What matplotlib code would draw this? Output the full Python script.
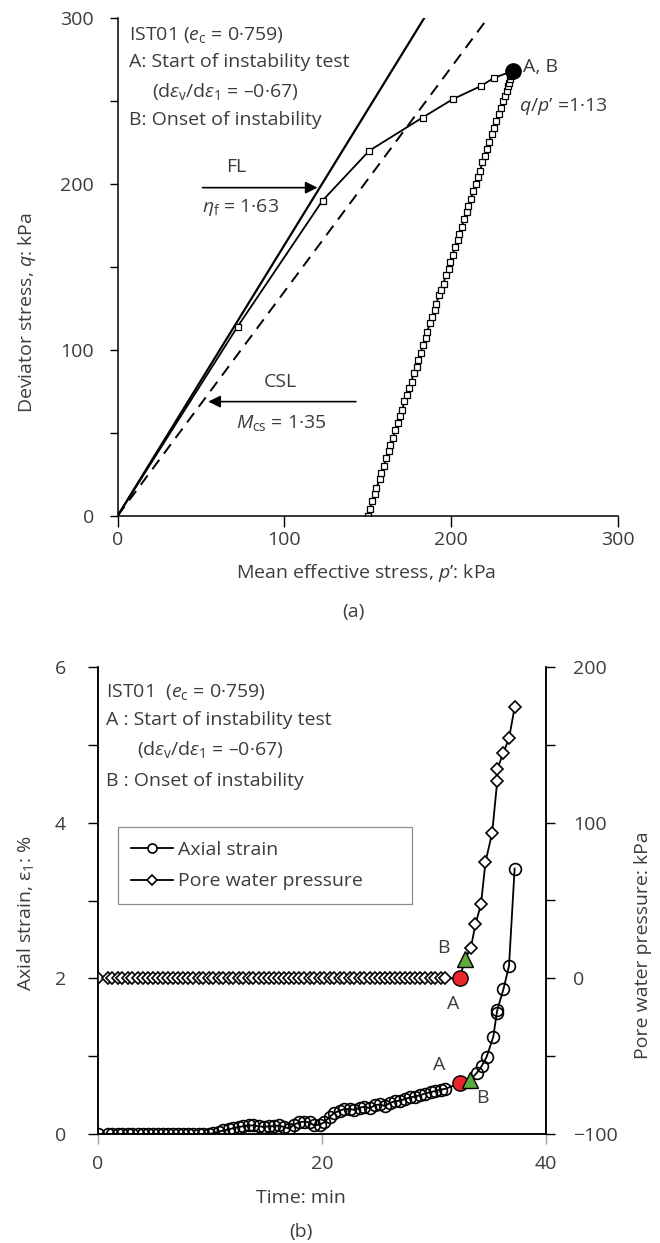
import matplotlib
matplotlib.use('Agg')
import matplotlib.pyplot as plt
from matplotlib.lines import Line2D
from matplotlib.ticker import MultipleLocator

plt.rcParams['font.family'] = ['Open Sans', 'DejaVu Sans']
plt.rcParams['mathtext.fontset'] = 'custom'
plt.rcParams['mathtext.rm'] = 'Open Sans'
plt.rcParams['mathtext.it'] = 'Open Sans:italic'
plt.rcParams['font.size'] = 14
TXT = '#3c3c3c'
FS = 14

# ---- (a) stress paths ----
# drained loading up to the start of the instability test
p_load = [0, 72, 123, 151, 183, 201, 218, 226, 237]
q_load = [0, 114, 190, 220, 240, 251, 259, 264, 268]
# instability test path
p_ist = [150.0, 151.3, 152.9, 154.4, 155.3, 157.3, 158.2, 159.9, 161.1, 162.8,
         163.7, 165.4, 166.6, 168.3, 169.2, 170.9, 172.1, 173.9, 174.6, 176.4,
         177.6, 179.5, 180.2, 181.9, 183.2, 184.9, 185.7, 187.6, 188.6, 190.4,
         191.2, 193.1, 194.0, 195.6, 197.0, 198.6, 199.4, 201.1, 202.4, 204.0,
         205.1, 206.6, 207.8, 209.5, 210.4, 212.1, 213.4, 215.0, 216.0, 217.6,
         218.9, 220.5, 221.4, 223.0, 224.5, 225.9, 227.0, 228.6, 229.8, 231.3,
         232.2, 233.5, 234.3, 235.1, 235.6, 236.2, 236.8]
q_ist = [0, 4, 9, 13, 17, 22, 26, 30, 35, 39,
         43, 47, 52, 56, 60, 64, 69, 73, 77, 81,
         86, 90, 94, 98, 103, 107, 111, 116, 120, 124,
         128, 133, 136, 140, 145, 149, 153, 157, 162, 166,
         170, 174, 179, 183, 187, 191, 196, 200, 204, 208,
         213, 217, 221, 225, 230, 234, 238, 242, 246, 250,
         253, 256, 259, 261, 263, 265, 267]
eta_f = 1.63
m_cs = 1.35
p_line = [0, 300]

# ---- (b) time histories ----
t_hold = [0.0, 0.9, 1.3, 1.8, 2.2, 2.7, 3.1, 3.6, 4.0, 4.5, 4.9, 5.4, 5.8, 6.3,
          6.7, 7.2, 7.6, 8.1, 8.5, 9.0, 9.4, 9.9, 10.3, 10.8, 11.2, 11.7, 12.1,
          12.6, 13.0, 13.5, 13.9, 14.4, 14.8, 15.3, 15.7, 16.2, 16.6, 17.1, 17.5,
          18.0, 18.4, 18.9, 19.3, 19.8, 20.2, 20.7, 21.1, 21.6, 22.0, 22.5, 22.9,
          23.4, 23.8, 24.3, 24.7, 25.2, 25.6, 26.1, 26.5, 27.0, 27.4, 27.9, 28.3,
          28.8, 29.2, 29.7, 30.1, 30.6, 31.0]
strain_hold = [0, 0, 0, 0, 0, 0, 0, 0, 0, 0, 0, 0, 0, 0, 0, 0, 0, 0, 0, 0, 0, 0,
               0.01, 0.03, 0.045, 0.06, 0.075, 0.09, 0.10, 0.11, 0.11, 0.10, 0.09,
               0.10, 0.10, 0.11, 0.09, 0.07, 0.12, 0.15, 0.16, 0.15, 0.11, 0.12,
               0.15, 0.22, 0.27, 0.30, 0.32, 0.32, 0.31, 0.34, 0.35, 0.33, 0.37,
               0.38, 0.36, 0.40, 0.42, 0.43, 0.45, 0.47, 0.48, 0.50, 0.52, 0.54,
               0.55, 0.57, 0.58]
pwp_hold = [0, 0, 0, 0, 0, 0, 0, 0, 0, 0, 0, 0, 0, 0, 0, 0, 0, 0, 0, 0, 0, 0,
            0, 0, 0, 0, 0, 0, 0, 0, 0, 0, 0, 0, 0, 0, 0, 0, 0, 0, 0, 0, 0, 0,
            0, 0, 0, 0, 0, 0, 0, 0, 0, 0, 0, 0, 0, 0, 0, 0, 0, 0, 0, 0, 0, 0,
            0, 0, 0]
t_strain_tail = [33.8, 34.25, 34.7, 35.3, 35.6, 35.65, 36.2, 36.7, 37.2]
strain_tail = [0.78, 0.87, 0.99, 1.25, 1.55, 1.59, 1.86, 2.16, 3.41]
t_pwp_tail = [33.3, 33.7, 34.2, 34.6, 35.2, 35.65, 35.65, 36.2, 36.7, 37.2]
pwp_tail = [19.7, 34.7, 47.5, 74.7, 93.6, 126.8, 134.2, 145, 154.2, 174]
# A: start of instability test, B: onset of instability
t_a, strain_a, pwp_a = 32.3, 0.65, 0
t_b_strain, strain_b = 33.2, 0.69
t_b_pwp, pwp_b = 32.8, 12.7

fig = plt.figure(figsize=(6.6, 12.43), dpi=100)

# ======== (a) ========
ax1 = fig.add_axes([117.5 / 660, 1 - 516 / 1243, 500 / 660, 498 / 1243])
ax1.plot(p_line, [eta_f * p for p in p_line], '-', color='k', lw=1.6)
ax1.plot(p_line, [m_cs * p for p in p_line], '--', color='k', lw=1.4,
         dashes=(6, 4))
ax1.plot(p_load, q_load, '-', color='k', lw=1.3, marker='s', ms=4.5,
         mfc='white', mec='k', mew=0.9, markevery=list(range(1, len(p_load) - 1)))
ax1.plot(p_ist, q_ist, '-', color='k', lw=1.3, marker='s', ms=4.5,
         mfc='white', mec='k', mew=0.9)
ax1.plot(p_load[-1], q_load[-1], 'o', color='k', ms=11, zorder=5)

ax1.set_xlim(0, 300)
ax1.set_ylim(0, 300)
for s in ['top', 'right']:
    ax1.spines[s].set_visible(False)
for s in ['left', 'bottom']:
    ax1.spines[s].set_linewidth(1.1)
ax1.xaxis.set_major_locator(MultipleLocator(100))
ax1.yaxis.set_major_locator(MultipleLocator(100))
ax1.yaxis.set_minor_locator(MultipleLocator(50))
ax1.tick_params(axis='y', which='both', direction='out', length=6, width=1,
                pad=11, labelcolor=TXT, labelsize=FS)
ax1.tick_params(axis='x', which='both', direction='out', length=8, width=1,
                pad=3, labelcolor=TXT, labelsize=FS)

ax1.text(7, 290, 'IST01 ($e_\\mathrm{c}$ = 0·759)', color=TXT, va='center')
ax1.text(7, 273.5, 'A: Start of instability test', color=TXT, va='center')
ax1.text(21, 255.5, '(d$\\varepsilon_\\mathrm{v}$/d$\\varepsilon_\\mathrm{1}$ = –0·67)',
         color=TXT, va='center')
ax1.text(7, 238.5, 'B: Onset of instability', color=TXT, va='center')
ax1.text(243.5, 270.5, 'A, B', color=TXT, va='center')
ax1.text(241, 246.5, '$q$/$p$’ =1·13', color=TXT, va='center')

ax1.annotate('', xy=(120, 197.8), xytext=(51, 197.8),
             arrowprops=dict(arrowstyle='-|>', color='k', lw=1.2,
                             mutation_scale=18, shrinkA=0, shrinkB=0))
ax1.text(71.5, 210.5, 'FL', color=TXT, ha='center', va='center')
ax1.text(51, 186, '$\\eta_\\mathrm{f}$ = 1·63', color=TXT, va='center')
ax1.annotate('', xy=(54.5, 68.9), xytext=(143, 68.9),
             arrowprops=dict(arrowstyle='-|>', color='k', lw=1.2,
                             mutation_scale=18, shrinkA=0, shrinkB=0))
ax1.text(97.8, 81, 'CSL', color=TXT, ha='center', va='center')
ax1.text(71.4, 56, '$M_\\mathrm{cs}$ = 1·35', color=TXT, va='center')

ax1.text(0.497, -0.1145, 'Mean effective stress, $p$’: kPa', color=TXT,
         ha='center', va='center', transform=ax1.transAxes)
ax1.text(0.471, -0.193, '(a)', color=TXT, ha='center', va='center',
         transform=ax1.transAxes)
ax1.text(-0.181, 0.408, 'Deviator stress, $q$: kPa', color=TXT, rotation=90,
         ha='center', va='center', transform=ax1.transAxes)

# ======== (b) ========
ax2 = fig.add_axes([97.7 / 660, 1 - 1134 / 1243, 448.3 / 660, 467 / 1243])
ax2r = ax2.twinx()

t_strain = t_hold + [t_a, t_b_strain] + t_strain_tail
strain_all = strain_hold + [strain_a, strain_b] + strain_tail
n_hold = len(t_hold)
mark_s = list(range(n_hold)) + list(range(n_hold + 2, len(t_strain)))
ax2.plot(t_strain, strain_all, '-', color='k', lw=1.3, marker='o', ms=8.5,
         mfc='none', mec='k', mew=1.2, markevery=mark_s)
ax2.plot(t_a, strain_a, 'o', ms=11, mfc='#e8262c', mec='k', mew=1, zorder=5)
ax2.plot(t_b_strain, strain_b, '^', ms=11, mfc='#5aab3c', mec='k', mew=1, zorder=6)

t_pwp = t_hold + [t_a, t_b_pwp] + t_pwp_tail
pwp_all = pwp_hold + [pwp_a, pwp_b] + pwp_tail
mark_p = list(range(n_hold)) + list(range(n_hold + 2, len(t_pwp)))
ax2r.plot(t_pwp, pwp_all, '-', color='k', lw=1.3, marker='D', ms=6.5,
          mfc='white', mec='k', mew=1.2, markevery=mark_p)
ax2r.plot(t_a, pwp_a, 'o', ms=11, mfc='#e8262c', mec='k', mew=1, zorder=5)
ax2r.plot(t_b_pwp, pwp_b, '^', ms=11, mfc='#5aab3c', mec='k', mew=1, zorder=6)

ax2.set_xlim(0, 40)
ax2.set_ylim(0, 6)
ax2r.set_ylim(-100, 200)
for a in [ax2, ax2r]:
    a.spines['top'].set_visible(False)
    for s in ['left', 'bottom', 'right']:
        a.spines[s].set_linewidth(1.1)
ax2.xaxis.set_major_locator(MultipleLocator(20))
ax2.yaxis.set_major_locator(MultipleLocator(2))
ax2.yaxis.set_minor_locator(MultipleLocator(1))
ax2r.yaxis.set_major_locator(MultipleLocator(100))
ax2r.yaxis.set_minor_locator(MultipleLocator(50))
ax2.tick_params(axis='x', direction='out', length=7, width=1, color='#a0a0a0',
                pad=8, labelcolor=TXT, labelsize=FS)
ax2.tick_params(axis='y', which='both', direction='out', length=7, width=1,
                pad=16, labelcolor=TXT, labelsize=FS)
ax2r.tick_params(axis='y', which='both', direction='out', length=6.5, width=1,
                 pad=13, labelcolor=TXT, labelsize=FS)

ax2.text(0.74, 5.685, 'IST01  ($e_\\mathrm{c}$ = 0·759)', color=TXT, va='center')
ax2.text(0.74, 5.32, 'A : Start of instability test', color=TXT, va='center')
ax2.text(3.5, 4.935, '(d$\\varepsilon_\\mathrm{v}$/d$\\varepsilon_\\mathrm{1}$ = –0·67)',
         color=TXT, va='center')
ax2.text(0.74, 4.53, 'B : Onset of instability', color=TXT, va='center')
ax2.text(30.8, 2.39, 'B', color=TXT, ha='center', va='center')
ax2.text(31.7, 1.67, 'A', color=TXT, ha='center', va='center')
ax2.text(30.5, 0.89, 'A', color=TXT, ha='center', va='center')
ax2.text(34.3, 0.46, 'B', color=TXT, ha='center', va='center')

handles = [Line2D([], [], color='k', lw=1.3, marker='o', ms=6.5, mfc='white',
                  mec='k', mew=1.2),
           Line2D([], [], color='k', lw=1.3, marker='D', ms=5, mfc='white',
                  mec='k', mew=1.2)]
leg = ax2r.legend(handles, ['Axial strain', 'Pore water pressure'],
                  loc='upper left', bbox_to_anchor=(0.045, 0.488, 0.656, 0.169),
                  mode='expand', fancybox=False, framealpha=1,
                  edgecolor='#8c8c8c', handlelength=2.15, handletextpad=0.25,
                  borderpad=0.7, labelspacing=0.7, fontsize=FS, borderaxespad=0)
leg.get_frame().set_linewidth(0.9)
for txt in leg.get_texts():
    txt.set_color(TXT)

ax2.text(0.4535, -0.137, 'Time: min', color=TXT, ha='center', va='center',
         transform=ax2.transAxes)
ax2.text(0.4535, -0.21, '(b)', color=TXT, ha='center', va='center',
         transform=ax2.transAxes)
ax2.text(-0.16, 0.473, 'Axial strain, ε$_1$: %', color=TXT, rotation=90,
         ha='center', va='center', transform=ax2.transAxes)
ax2.text(1.216, 0.405, 'Pore water pressure: kPa', color=TXT, rotation=90,
         ha='center', va='center', transform=ax2.transAxes)

fig.savefig('out.png', dpi=100)
